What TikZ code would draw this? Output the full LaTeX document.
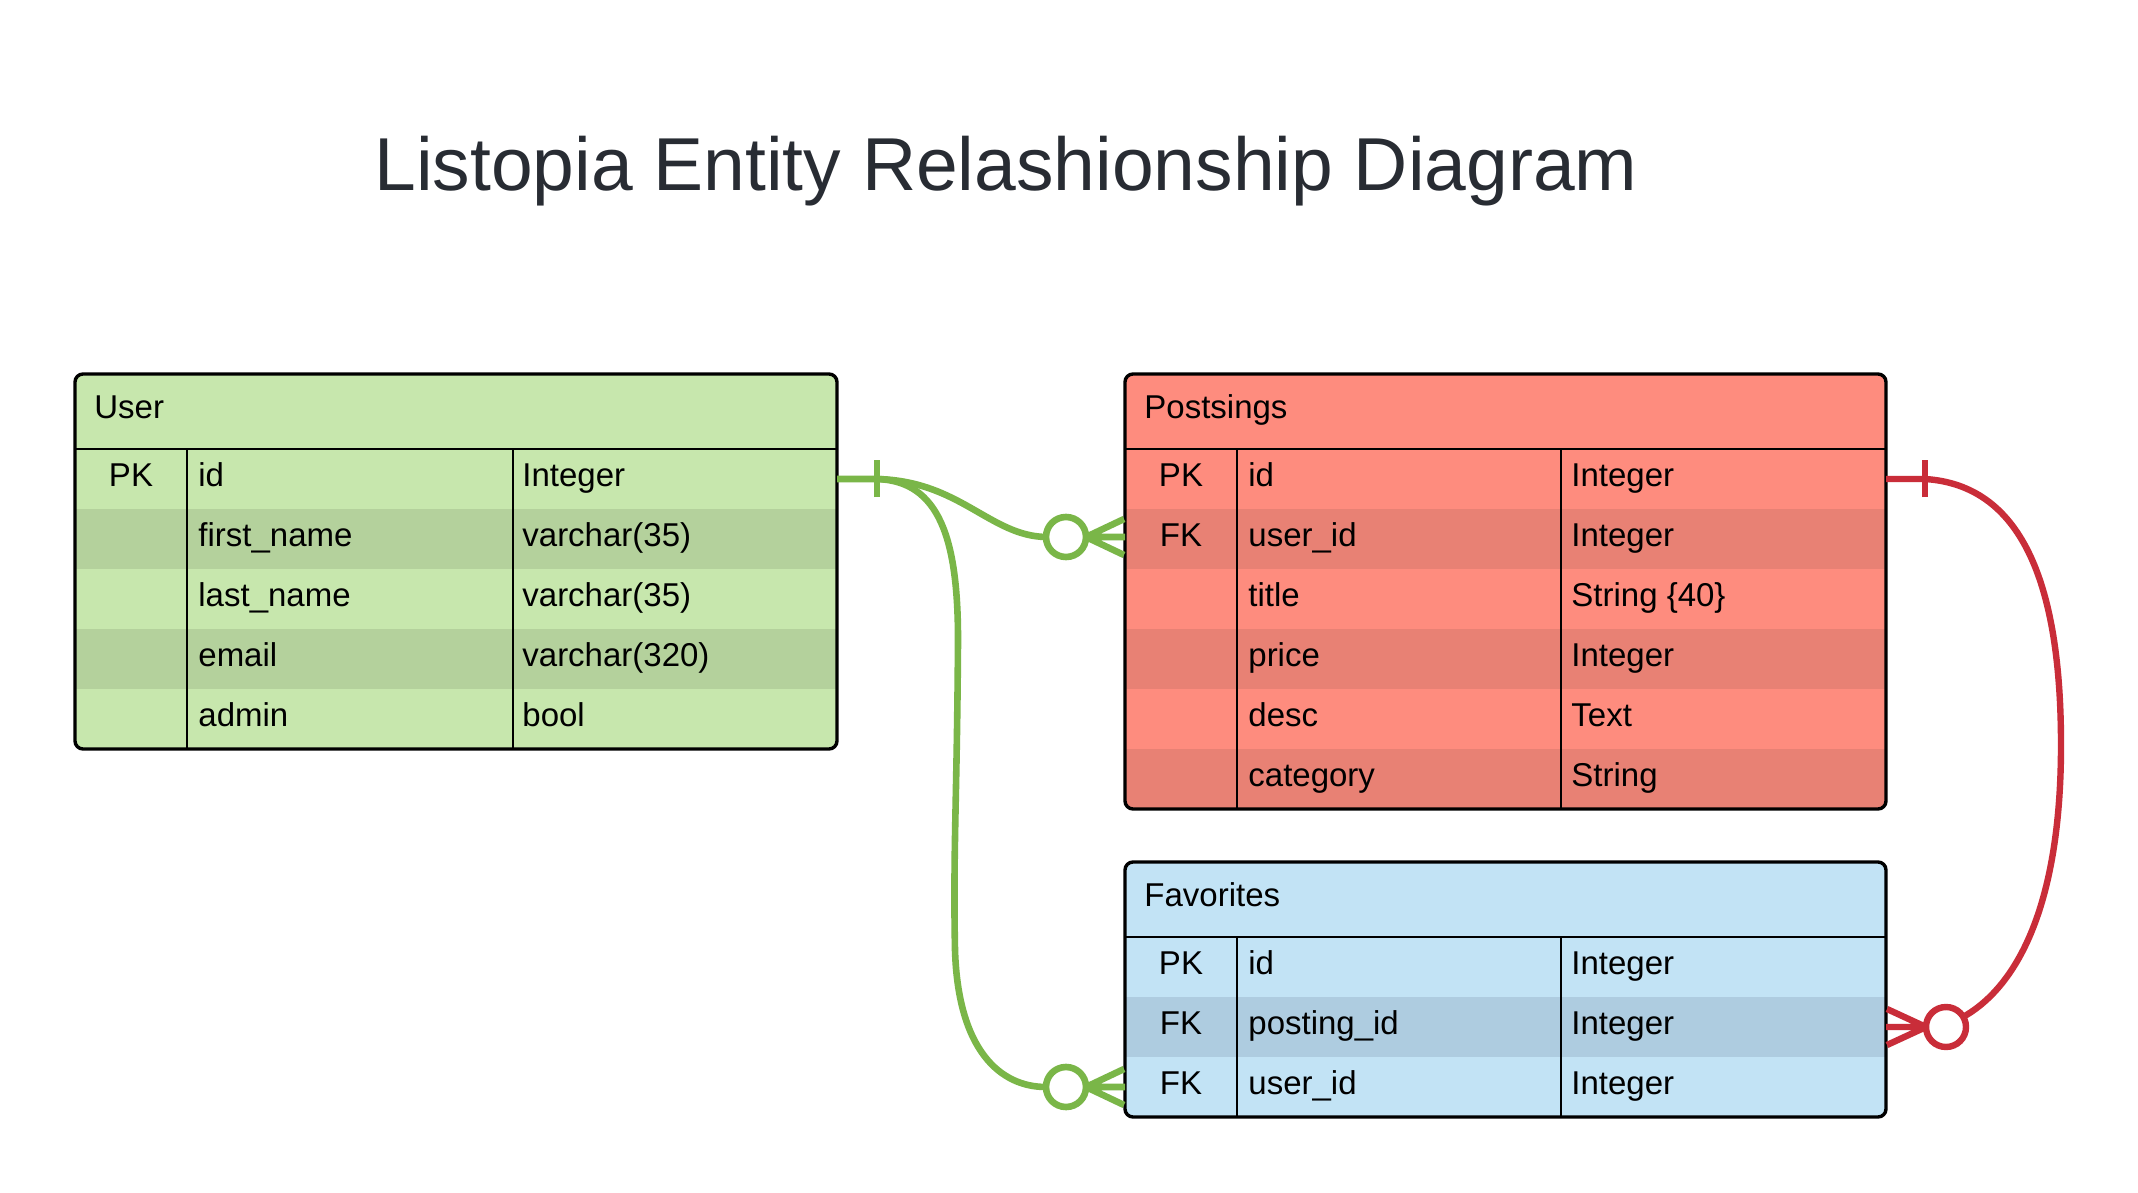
\documentclass[tikz,border=0pt]{standalone}
\usepackage{fontspec}
\setmainfont{Liberation Sans}
\definecolor{ugl}{HTML}{C7E7AD}
\definecolor{ugd}{HTML}{B4D19C}
\definecolor{prl}{HTML}{FE8C7E}
\definecolor{prd}{HTML}{E88174}
\definecolor{fbl}{HTML}{C2E3F5}
\definecolor{fbd}{HTML}{AECCE0}
\definecolor{ttl}{HTML}{282C33}
\definecolor{cgreen}{HTML}{7AB648}
\definecolor{cred}{HTML}{C92D39}
\tikzset{
  tblborder/.style={draw=black, line width=1.7pt, rounded corners=4pt},
  sepline/.style={draw=black, line width=1.4pt},
  celltext/.style={anchor=base west, inner sep=0pt, font=\fontsize{16.5}{19}\selectfont, text=black},
  keytext/.style={anchor=base, inner sep=0pt, font=\fontsize{16.5}{19}\selectfont, text=black},
  titletext/.style={anchor=base, inner sep=0pt, font=\fontsize{37.5}{44}\selectfont, text=ttl},
  gconn/.style={draw=cgreen, line width=3.3pt},
  rconn/.style={draw=cred, line width=3.2pt},
}
\begin{document}
\begin{tikzpicture}[x=0.5pt,y=-0.5pt]
\useasboundingbox (0,0) rectangle (2138,1193);
\fill[white] (0,0) rectangle (2138,1193);

\node[titletext] (title) at (1006,191) {Listopia Entity Relashionship Diagram};

% ---------- User table ----------
\begin{scope}
  \clip[rounded corners=4pt] (75,374) rectangle (837,749);
  \fill[ugl] (75,374) rectangle (837,749);
  \fill[ugd] (75,509) rectangle (837,569);
  \fill[ugd] (75,629) rectangle (837,689);
\end{scope}
\draw[tblborder] (75,374) rectangle (837,749);
\draw[sepline] (75,449) -- (837,449);
\draw[sepline] (187,449) -- (187,749);
\draw[sepline] (513,449) -- (513,749);
\node[celltext] (u-h) at (94,418) {User};
\node[keytext] (u-k1) at (131,486) {PK};
\node[celltext] (u-n1) at (198,486) {id};
\node[celltext] (u-t1) at (522,486) {Integer};
\node[celltext] (u-n2) at (198,546) {first\_name};
\node[celltext] (u-t2) at (522,546) {varchar(35)};
\node[celltext] (u-n3) at (198,606) {last\_name};
\node[celltext] (u-t3) at (522,606) {varchar(35)};
\node[celltext] (u-n4) at (198,666) {email};
\node[celltext] (u-t4) at (522,666) {varchar(320)};
\node[celltext] (u-n5) at (198,726) {admin};
\node[celltext] (u-t5) at (522,726) {bool};

% ---------- Postsings table ----------
\begin{scope}
  \clip[rounded corners=4pt] (1125,374) rectangle (1886,809);
  \fill[prl] (1125,374) rectangle (1886,809);
  \fill[prd] (1125,509) rectangle (1886,569);
  \fill[prd] (1125,629) rectangle (1886,689);
  \fill[prd] (1125,749) rectangle (1886,809);
\end{scope}
\draw[tblborder] (1125,374) rectangle (1886,809);
\draw[sepline] (1125,449) -- (1886,449);
\draw[sepline] (1237,449) -- (1237,809);
\draw[sepline] (1561,449) -- (1561,809);
\node[celltext] (p-h) at (1144,418) {Postsings};
\node[keytext] (p-k1) at (1181,486) {PK};
\node[celltext] (p-n1) at (1248,486) {id};
\node[celltext] (p-t1) at (1571,486) {Integer};
\node[keytext] (p-k2) at (1181,546) {FK};
\node[celltext] (p-n2) at (1248,546) {user\_id};
\node[celltext] (p-t2) at (1571,546) {Integer};
\node[celltext] (p-n3) at (1248,606) {title};
\node[celltext] (p-t3) at (1571,606) {String \{40\}};
\node[celltext] (p-n4) at (1248,666) {price};
\node[celltext] (p-t4) at (1571,666) {Integer};
\node[celltext] (p-n5) at (1248,726) {desc};
\node[celltext] (p-t5) at (1571,726) {Text};
\node[celltext] (p-n6) at (1248,786) {category};
\node[celltext] (p-t6) at (1571,786) {String};

% ---------- Favorites table ----------
\begin{scope}
  \clip[rounded corners=4pt] (1125,862) rectangle (1886,1117);
  \fill[fbl] (1125,862) rectangle (1886,1117);
  \fill[fbd] (1125,997) rectangle (1886,1057);
\end{scope}
\draw[tblborder] (1125,862) rectangle (1886,1117);
\draw[sepline] (1125,937) -- (1886,937);
\draw[sepline] (1237,937) -- (1237,1117);
\draw[sepline] (1561,937) -- (1561,1117);
\node[celltext] (f-h) at (1144,906) {Favorites};
\node[keytext] (f-k1) at (1181,974) {PK};
\node[celltext] (f-n1) at (1248,974) {id};
\node[celltext] (f-t1) at (1571,974) {Integer};
\node[keytext] (f-k2) at (1181,1034) {FK};
\node[celltext] (f-n2) at (1248,1034) {posting\_id};
\node[celltext] (f-t2) at (1571,1034) {Integer};
\node[keytext] (f-k3) at (1181,1094) {FK};
\node[celltext] (f-n3) at (1248,1094) {user\_id};
\node[celltext] (f-t3) at (1571,1094) {Integer};

% ---------- connector anchors ----------
\coordinate (uR) at (837,479);
\coordinate (gBar) at (877,479);
\coordinate (pL) at (1125,537);
\coordinate (pL1) at (1124,519);
\coordinate (pL3) at (1124,555);
\coordinate (gC1) at (1066,537);
\coordinate (gJ1) at (1086,537);
\coordinate (fL) at (1125,1087);
\coordinate (fL1) at (1124,1069);
\coordinate (fL3) at (1124,1105);
\coordinate (gC2) at (1066,1087);
\coordinate (gJ2) at (1086,1087);
\coordinate (pR) at (1886,479);
\coordinate (rBar) at (1925,479);
\coordinate (fR) at (1886,1027);
\coordinate (fR1) at (1887,1009);
\coordinate (fR3) at (1887,1045);
\coordinate (rC) at (1946,1027);
\coordinate (rJ) at (1926,1027);

% ---------- User -> Postsings ----------
\draw[gconn] (uR) -- (gBar) .. controls (960,481) and (990,536) .. (1046,537);
\draw[gconn] ([yshift=-9pt]gBar) -- ([yshift=9.5pt]gBar);
\draw[gconn] (gC1) circle (10pt);
\draw[gconn] (gJ1) -- (pL1) (gJ1) -- (pL) (gJ1) -- (pL3);

% ---------- User -> Favorites ----------
\draw[gconn] (gBar) .. controls (940,481) and (958,540) .. (958,640)
  .. controls (957,800) and (953,850) .. (955,950)
  .. controls (958,1050) and (1000,1087) .. (1046,1087);
\draw[gconn] (gC2) circle (10pt);
\draw[gconn] (gJ2) -- (fL1) (gJ2) -- (fL) (gJ2) -- (fL3);

% ---------- Postsings -> Favorites ----------
\draw[rconn] (pR) -- (rBar) .. controls (2020,485) and (2061,580) .. (2061,745)
  .. controls (2061,900) and (2020,985) .. (1963,1017);
\draw[rconn] ([yshift=-9pt]rBar) -- ([yshift=9.5pt]rBar);
\draw[rconn] (rC) circle (10pt);
\draw[rconn] (rJ) -- (fR1) (rJ) -- (fR) (rJ) -- (fR3);
\end{tikzpicture}
\end{document}
